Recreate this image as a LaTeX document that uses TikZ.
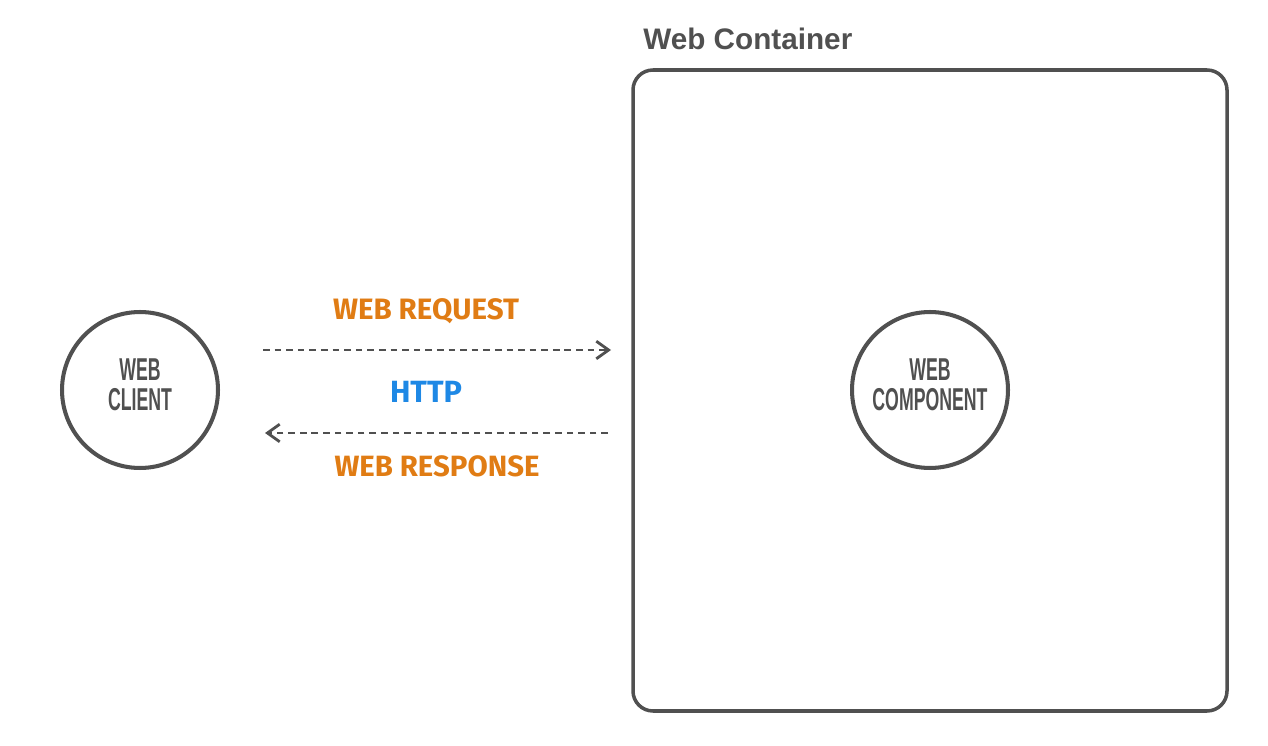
\documentclass[tikz,border=0pt]{standalone}
\usepackage{fontspec}
\setmainfont{Liberation Sans}
\newfontfamily\labelfont{Fira Sans}
\usetikzlibrary{arrows.meta}
\definecolor{dgray}{HTML}{505050}
\definecolor{lorange}{HTML}{E07C14}
\definecolor{lblue}{HTML}{1E88E5}
\tikzset{
  circnode/.style={circle, draw=dgray, line width=2.3pt, minimum size=3.12cm, inner sep=0pt},
  circtext/.style={text=dgray, font=\bfseries\fontsize{18}{18}\selectfont, align=center},
  flowline/.style={draw=dgray, line width=1.6pt, dash pattern=on 3.8pt off 2.8pt, -{Straight Barb[length=7pt,width=10pt,line width=1.6pt]}},
  flowlabel/.style={font=\labelfont\bfseries, inner sep=0pt},
}
\newcommand{\circlab}[2]{\scalebox{0.56}[1]{#1}\\[-0.8pt]\scalebox{0.56}[1]{#2}}
\begin{document}
\begin{tikzpicture}[x=0.02cm,y=-0.02cm]
\useasboundingbox (0,0) rectangle (1268,746);
% container
\draw[dgray, line width=2pt, rounded corners=0.4cm] (633,70) rectangle (1227,711);
\node[anchor=base west, inner sep=0pt, text=dgray, font=\bfseries\fontsize{16.9}{18}\selectfont] (title) at (643,50) {Web Container};
% circles
\node[circnode] (client) at (140,390) {};
\node[circtext] (clientlab) at (140,385) {\circlab{WEB}{CLIENT}};
\node[circnode] (component) at (930,390) {};
\node[circtext] (complab) at (930,385) {\circlab{WEB}{COMPONENT}};
% arrows
\coordinate (reqs) at (263,350);
\coordinate (reqe) at (611,350);
\coordinate (ress) at (608,433);
\coordinate (rese) at (265,433);
\draw[flowline] (reqs) -- (reqe);
\draw[flowline] (ress) -- (rese);
% labels
\node[flowlabel, text=lorange] (req) at (426,311) {\resizebox{3.72cm}{!}{WEB REQUEST}};
\node[flowlabel, text=lblue] (http) at (426,392) {\resizebox{1.44cm}{!}{HTTP}};
\node[flowlabel, text=lorange] (res) at (437,466) {\resizebox{4.1cm}{!}{WEB RESPONSE}};
\end{tikzpicture}
\end{document}
